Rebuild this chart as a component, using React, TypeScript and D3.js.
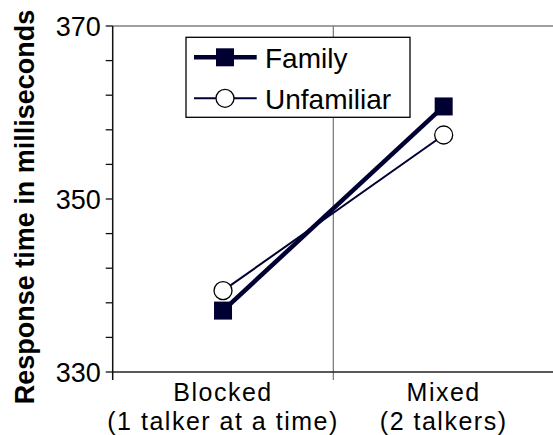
import React from 'react';
import * as d3 from 'd3';

const conditions = ['Blocked', 'Mixed'];
const conditionNotes = ['(1 talker at a time)', '(2 talkers)'];
const seriesNames = ['Family', 'Unfamiliar'];
const familyValues = [337.1, 360.7];
const unfamiliarValues = [339.4, 357.4];
const yTickLabels = [330, 350, 370];

const W = 553;
const H = 435;
const FONT = '"Liberation Sans", Arial, sans-serif';
const NAVY = '#000033';

export default function App() {
  const left = 112.7;
  const top = 26;
  const bottom = 372;
  const right = 554;

  const x = d3.scaleBand<string>().domain(conditions).range([left, right]);
  const y = d3.scaleLinear().domain([330, 370]).range([bottom, top]);
  const cx = (c: string) => (x(c) ?? 0) + x.bandwidth() / 2;

  const line = d3
    .line<number>()
    .x((_, i) => cx(conditions[i]))
    .y((d) => y(d));

  const minorTicks = d3.range(330, 371, 4);
  const sq = 18;

  const series = [
    { name: seriesNames[0], values: familyValues, width: 4.5, marker: 'square' },
    { name: seriesNames[1], values: unfamiliarValues, width: 2, marker: 'circle' },
  ];

  return (
    <svg
      width={W}
      height={H}
      style={{ position: 'absolute', left: 0, top: 0, background: '#fff' }}
      fontFamily={FONT}
    >
      {/* frame */}
      <line x1={left} x2={W} y1={top} y2={top} stroke="#7f7f7f" strokeWidth={1.3} />
      {conditions.slice(1).map((c) => (
        <line key={c} x1={x(c)} x2={x(c)} y1={top} y2={bottom + 8} stroke="#7f7f7f" strokeWidth={1.3} />
      ))}
      <line x1={left} x2={W} y1={bottom} y2={bottom} stroke="#222" strokeWidth={1.5} />
      <line x1={left} x2={left} y1={top} y2={bottom + 8} stroke="#111" strokeWidth={1.5} />

      {/* y ticks */}
      {minorTicks.map((t) => (
        <line key={t} x1={left - 7} x2={left} y1={y(t)} y2={y(t)} stroke="#111" strokeWidth={1.3} />
      ))}
      {yTickLabels.map((t) => (
        <text key={t} x={left - 12} y={y(t)} dy="0.36em" textAnchor="end" fontSize={27} fill="#000">
          {t}
        </text>
      ))}

      {/* category labels */}
      {conditions.map((c, i) => (
        <text key={c} x={cx(c)} textAnchor="middle" fontSize={25} letterSpacing={1.5} fill="#000">
          <tspan x={cx(c)} y={400.5}>{c}</tspan>
          <tspan x={cx(c)} y={429.5}>{conditionNotes[i]}</tspan>
        </text>
      ))}

      {/* y title */}
      <text
        transform={`translate(33.5, 207) rotate(-90)`}
        textAnchor="middle"
        fontSize={27}
        fontWeight="bold"
        fill="#000"
      >
        Response time in milliseconds
      </text>

      {/* series lines */}
      {series.map((s) => (
        <path key={s.name} d={line(s.values) ?? ''} fill="none" stroke={NAVY} strokeWidth={s.width} />
      ))}
      {/* markers */}
      {series.map((s) =>
        s.values.map((v, i) =>
          s.marker === 'square' ? (
            <rect
              key={s.name + i}
              x={cx(conditions[i]) - sq / 2}
              y={y(v) - sq / 2}
              width={sq}
              height={sq}
              fill={NAVY}
            />
          ) : (
            <circle key={s.name + i} cx={cx(conditions[i])} cy={y(v)} r={9} fill="#fff" stroke="#000" strokeWidth={1.3} />
          )
        )
      )}

      {/* legend */}
      <g>
        <rect x={186} y={37.3} width={224} height={80} fill="#fff" stroke="#000" strokeWidth={1.3} />
        {series.map((s, i) => {
          const ly = 57.3 + i * 41;
          return (
            <g key={s.name}>
              <line x1={194} x2={256.7} y1={ly} y2={ly} stroke={NAVY} strokeWidth={s.marker === 'square' ? 4.5 : 2} />
              {s.marker === 'square' ? (
                <rect x={225 - sq / 2} y={ly - sq / 2} width={sq} height={sq} fill={NAVY} />
              ) : (
                <circle cx={225} cy={ly} r={9} fill="#fff" stroke="#000" strokeWidth={1.3} />
              )}
              <text x={265} y={ly + 8} dy="0.1em" fontSize={28} fill="#000">
                {s.name}
              </text>
            </g>
          );
        })}
      </g>
    </svg>
  );
}
